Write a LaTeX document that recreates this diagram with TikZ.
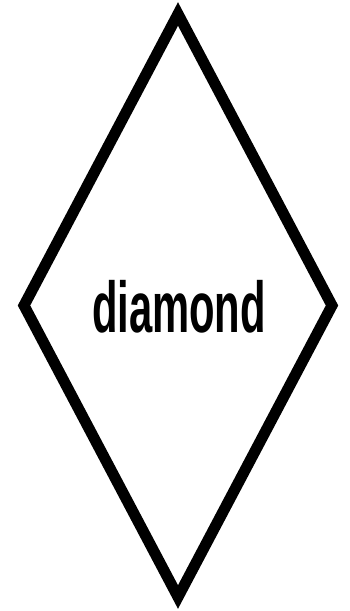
\documentclass[tikz,border=0pt]{standalone}
\usepackage{fontspec}
\setmainfont{Liberation Sans}
\begin{document}
\begin{tikzpicture}[x=1pt,y=1pt,
  outline/.style={draw=black,line width=11pt,line join=miter},
  labeltext/.style={inner sep=0pt,anchor=base,font=\fontsize{72}{80}\selectfont\bfseries}]
\useasboundingbox (0,0) rectangle (349,611);
\coordinate (top) at (178,597);
\coordinate (bottom) at (178,14);
\coordinate (left) at (24,305.5);
\coordinate (right) at (332,305.5);
\draw[outline] (top) -- (right) -- (bottom) -- (left) -- cycle;
\node[labeltext] (lbl) at (179,278) {\scalebox{0.58}[1]{diamond}};
\end{tikzpicture}
\end{document}
